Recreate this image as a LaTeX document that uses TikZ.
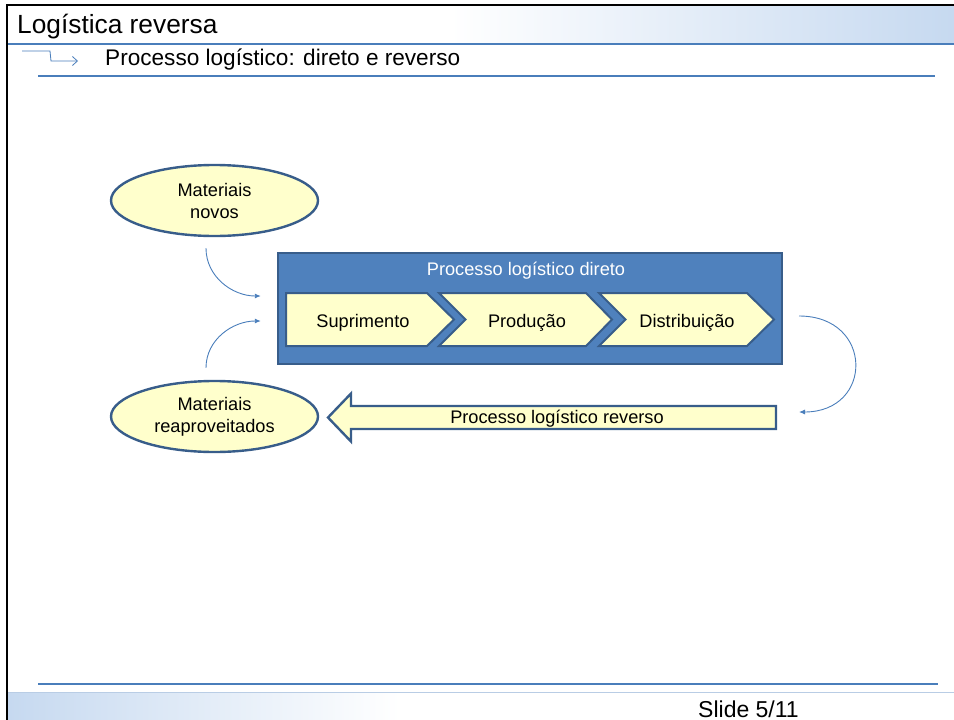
\documentclass[tikz,border=0pt]{standalone}
\usepackage{fontspec}
\setmainfont{Liberation Sans}
\usetikzlibrary{arrows.meta,shapes.geometric}

\definecolor{boxblue}{HTML}{4F81BD}
\definecolor{edgeblue}{HTML}{385D8A}
\definecolor{lineblue}{HTML}{4A7EBB}
\definecolor{paleyellow}{HTML}{FFFFCC}
\definecolor{paleblue}{HTML}{C6D9F0}
\definecolor{footline}{HTML}{B9CDE5}

\tikzset{
  material/.style={ellipse, draw=edgeblue, line width=2.4pt, fill=paleyellow,
    minimum width=207pt, minimum height=71pt, inner sep=0pt, align=center,
    font=\fontsize{18.2}{22}\selectfont},
  etapa/.style={draw=edgeblue, line width=2pt, fill=paleyellow, line join=miter},
  rotulo/.style={anchor=base, inner sep=0pt, font=\fontsize{18.2}{22}\selectfont},
  liga/.style={draw=lineblue, line width=0.9pt, -{Latex[length=6pt,width=5pt]}},
}

\begin{document}
\begin{tikzpicture}[x=1pt, y=-1pt]
\useasboundingbox (0,0) rectangle (954,720);
% title band
\shade[left color=white, right color=paleblue] (450,6) rectangle (954,44);
\draw[lineblue, line width=1.2pt] (7,44) -- (954,44);
\draw[lineblue, line width=1.2pt] (38,76) -- (935,76);
\node[anchor=base west, font=\fontsize{26.3}{30}\selectfont, inner sep=0pt] (titulo) at (17,34) {Logística reversa};
\draw[lineblue, line width=0.8pt, -{Straight Barb[length=5pt,width=9pt]}] (22,51) -- (50,51) -- (51,61) -- (78,61);
\node[anchor=base west, font=\fontsize{22.6}{26}\selectfont, inner sep=0pt] (subtitulo) at (105,65) {Processo logístico: direto e reverso};
% footer
\shade[left color=paleblue, right color=white] (8,692) rectangle (400,720);
\draw[footline, line width=1pt] (8,692) -- (954,692);
\draw[lineblue, line width=1.2pt] (38,684) -- (938,684);
\node[anchor=base west, font=\fontsize{23}{26}\selectfont, inner sep=0pt] (pagina) at (698,717) {Slide 5/11};
\draw[line width=2.5pt] (7,720) -- (7,5) -- (954,5);

% diagram
\node[material] (novos) at (214.5,200.5) {Materiais\\novos};
\node[material] (reap) at (214.5,416.5) {Materiais\\reaproveitados};

\node[rectangle, draw=edgeblue, line width=2.4pt, fill=boxblue, minimum width=504pt, minimum height=111pt] (direto) at (530,308.5) {};
\node[rotulo, text=white] (diretotit) at (526,275) {Processo logístico direto};
\draw[etapa] (286,293) -- (427,293) -- (454,319.5) -- (427,346) -- (286,346) -- cycle;
\draw[etapa] (439,293) -- (586,293) -- (612,319.5) -- (586,346) -- (439,346) -- (465.5,319.5) -- cycle;
\draw[etapa] (599,293) -- (747,293) -- (774,319.5) -- (747,346) -- (599,346) -- (625.5,319.5) -- cycle;
\node[rotulo] (sup) at (363,327) {Suprimento};
\node[rotulo] (prod) at (527,327) {Produção};
\node[rotulo] (dist) at (687,327) {Distribuição};
\coordinate (distponta) at (775,319.5);

\draw[etapa, line width=2.4pt] (328,417.5) -- (351,393.5) -- (351,406) -- (776,406)
  -- (776,429) -- (351,429) -- (351,441.5) -- cycle;
\node[rotulo] (rev) at (557,423.5) {Processo logístico reverso};
\coordinate (revtail) at (777,417.5);

\draw[liga] ([xshift=-8.5pt,yshift=-11pt]novos.south) to[out=-90,in=180] ([xshift=-16pt,yshift=12.5pt]direto.west);
\draw[liga] ([xshift=-8.5pt,yshift=12pt]reap.north) to[out=90,in=180] ([xshift=-16pt,yshift=-12.5pt]direto.west);
\draw[liga] ([xshift=24pt,yshift=3.5pt]distponta) to[out=0,in=0,looseness=2] ([xshift=22pt,yshift=5.5pt]revtail);
\end{tikzpicture}
\end{document}
